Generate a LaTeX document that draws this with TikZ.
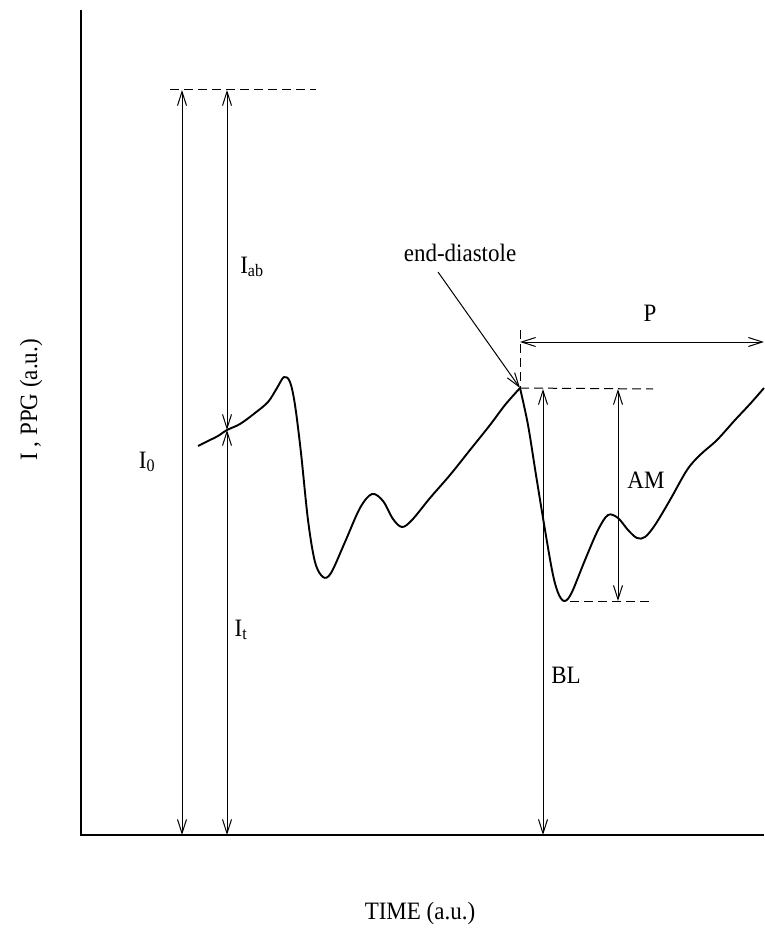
\documentclass[tikz,border=0pt]{standalone}
\usepackage{fontspec}
\setmainfont[FakeStretch=0.92]{Liberation Serif}
\usetikzlibrary{arrows.meta}
\tikzset{
  lbl/.style={font=\fontsize{25}{29}\selectfont, inner sep=0pt},
  dimarrow/.style={<->, line width=1pt},
  guideline/.style={line width=1pt, dash pattern=on 9pt off 5pt},
}
\begin{document}
\begin{tikzpicture}[x=1pt,y=-1pt,>={Straight Barb[length=14pt,width=9pt]}]
   \useasboundingbox (0,0) rectangle (764,941);
   %axis
   \coordinate (ytop) at (81,10);
   \coordinate (origin) at (81,835);
   \coordinate (xend) at (764,835);
   \draw[line width=1.6pt] (ytop) -- (origin) -- (xend);
   %signal
   \coordinate (cross) at (227,430);
   \coordinate (ed) at (520,388);
   \coordinate (trough) at (565,601);
   \draw[line width=1.9pt,line join=round] plot[smooth,tension=0.55] coordinates {
     (198,446) (210,440) (218,436) (cross) (240,424) (255,413) (268,402)
     (277,388) (284,377) (290,382) (295,405) (301,453) (308,520) (315,562)
     (323,577) (331,573) (345,542) (360,508) (372,494) (383,501) (393,519)
     (402,527) (412,520) (430,498) (450,475) (470,450) (490,425) (505,405) (ed)};
   \draw[line width=1.9pt,line join=round] plot[smooth,tension=0.55] coordinates {
     (ed) (528,425) (536,475) (545,530) (553,575) (559,595) (trough) (572,592)
     (585,560) (598,530) (608,515) (618,518) (628,530) (637,538) (645,537)
     (655,525) (670,500) (687,470) (700,455) (717,440) (735,420) (750,404) (764,388)};
   %reference levels
   \coordinate (lvltop) at (170,90);
   \coordinate (lvltopend) at (316,90);
   \coordinate (i0top) at (182,90);
   \coordinate (i0bot) at (182,835);
   \coordinate (iabtop) at (227,90);
   \coordinate (itbot) at (227,835);
   \draw[guideline] (lvltop) -- (lvltopend);
   \draw[dimarrow] (i0top) -- (i0bot);
   \draw[dimarrow] (iabtop) -- (cross);
   \draw[dimarrow] (cross) -- (itbot);
   %period and amplitude
   \coordinate (edup) at (520,330);
   \coordinate (pleft) at (520,342);
   \coordinate (pright) at (764,342);
   \coordinate (maxend) at (653,389);
   \coordinate (minstart) at (570,601);
   \coordinate (minend) at (653,601);
   \coordinate (bltop) at (543,389);
   \coordinate (blbot) at (543,835);
   \coordinate (amtop) at (618,389);
   \coordinate (ambot) at (618,601);
   \draw[guideline] (edup) -- (ed);
   \draw[guideline] (ed) -- (maxend);
   \draw[guideline] (minstart) -- (minend);
   \draw[dimarrow] (pleft) -- (pright);
   \draw[dimarrow] (bltop) -- (blbot);
   \draw[dimarrow] (amtop) -- (ambot);
   %labels
   \node[lbl] (iab) at (252,267) {I\textsubscript{ab}};
   \node[lbl] (izero) at (147,462) {I\textsubscript{0}};
   \node[lbl] (it) at (241,630) {I\textsubscript{t}};
   \node[lbl] (per) at (650,313) {P};
   \node[lbl] (am) at (646,480) {AM};
   \node[lbl] (bl) at (566,675) {BL};
   \node[lbl] (edlbl) at (460,253) {end-diastole};
   \draw[->,line width=1pt] (edlbl.south) ++(-22,10) coordinate (edfrom) (edfrom) -- (ed);
   \node[lbl] (xlbl) at (420,913) {TIME (a.u.)};
   \node[lbl,rotate=90] (ylbl) at (31,400) {I , PPG (a.u.)};
\end{tikzpicture}
\end{document}
